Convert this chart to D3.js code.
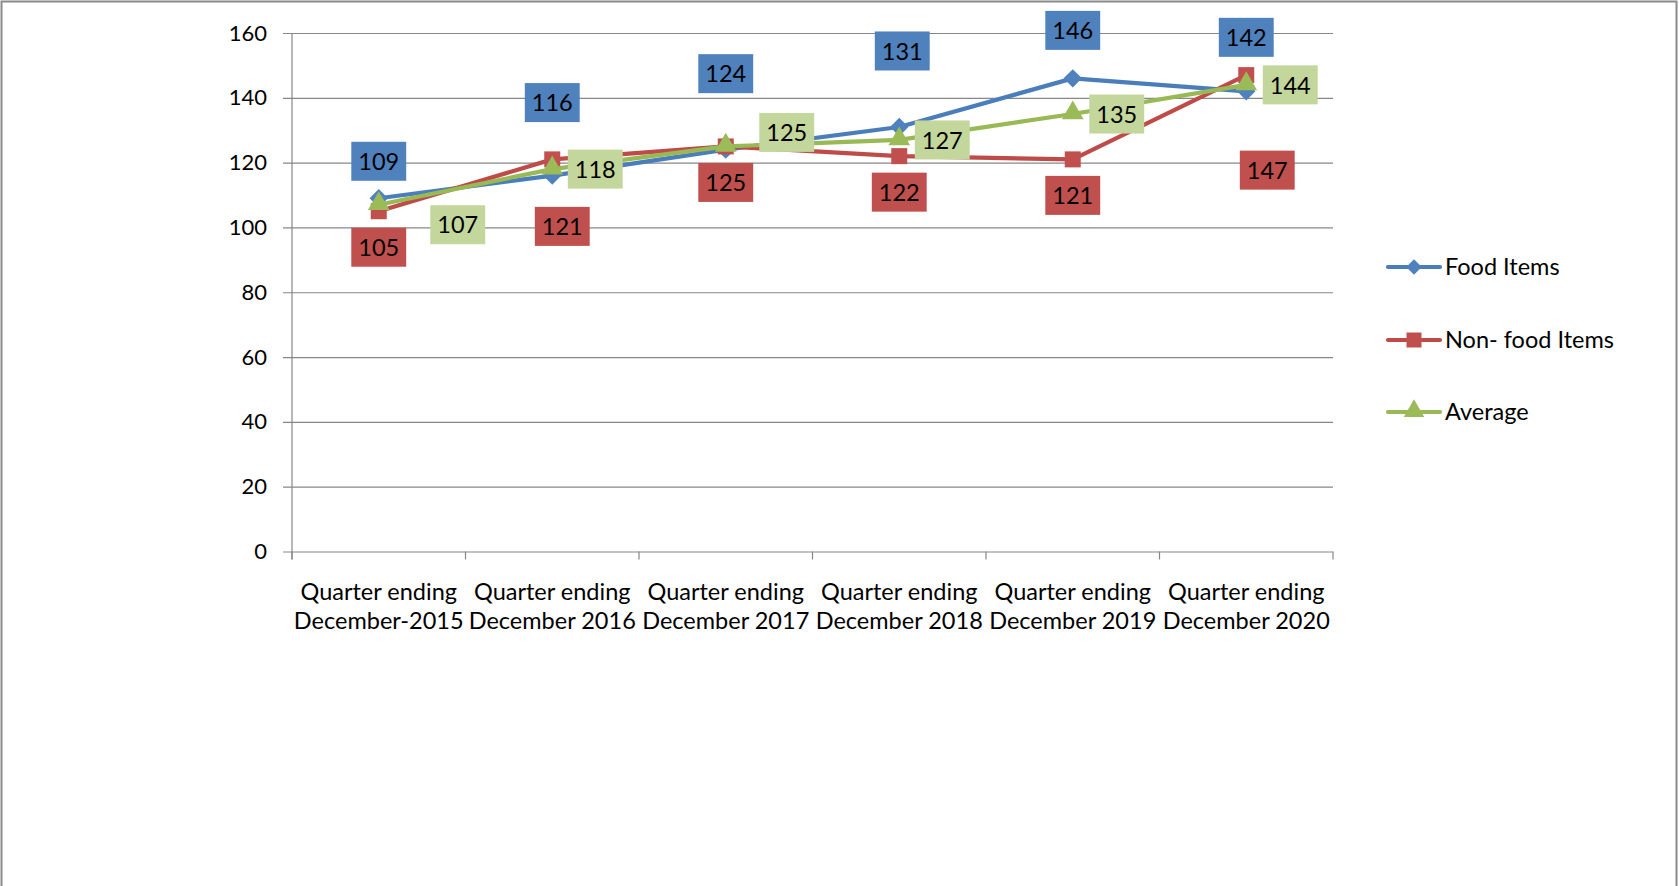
<!DOCTYPE html>
<html>
<head>
<meta charset="utf-8">
<script src="https://cdn.jsdelivr.net/npm/d3@7"></script>
<style>
    body { margin: 0; background: #fff; }
    text { font-family: Lato, "Open Sans", sans-serif; fill: #000; }
</style>
</head>
<body>
<div id="container"></div>
<script>
var width = 1679,
    height = 886;

// chart data
var categories = [
    "Quarter ending\nDecember-2015",
    "Quarter ending\nDecember 2016",
    "Quarter ending\nDecember 2017",
    "Quarter ending\nDecember 2018",
    "Quarter ending\nDecember 2019",
    "Quarter ending\nDecember 2020"
];
var seriesNames = ["Food Items", "Non- food Items", "Average"];
var foodItems = [109, 116, 124, 131, 146, 142];
var nonFoodItems = [105, 121, 125, 122, 121, 147];
var average = [107, 118, 125, 127, 135, 144];
var yTicks = [0, 20, 40, 60, 80, 100, 120, 140, 160];

// where each data label sits relative to its point (px)
var labelShift = [
    [[0, -37], [0, -73], [0, -76], [3, -76], [0, -48], [0, -54]],
    [[0, 36], [10, 67], [0, 36], [0, 36], [0, 36], [21, 95]],
    [[79, 20], [43, 0], [61, -14], [43, 0], [44, 0], [44, 0]]
];

var lineColors = ["#4A7EBB", "#BE4B48", "#98B954"],
    markerColors = ["#4F81BD", "#C0504D", "#9BBB59"],
    labelColors = ["#4F81BD", "#C0504D", "#C3D69B"];

var series = [foodItems, nonFoodItems, average].map(function (vals, i) {
    return { name: seriesNames[i], values: vals, index: i };
});

var svg = d3.select("#container")
    .append("svg")
    .attr("width", width)
    .attr("height", height);

// outer frame
svg.append("rect")
    .attr("x", 1.5).attr("y", 1.5)
    .attr("width", 1675).attr("height", 900)
    .attr("fill", "none")
    .attr("stroke", "#8a8a8a")
    .attr("stroke-width", 2);

var x0 = 292, x1 = 1333, yTop = 33, yBottom = 551.5;

var x = d3.scaleBand().domain(categories).range([x0, x1]).paddingInner(0).paddingOuter(0);
var y = d3.scaleLinear().domain([0, 160]).range([yBottom, yTop]);
var cx = function (i) { return x(categories[i]) + x.bandwidth() / 2; };

// gridlines + y labels
var yAxis = svg.append("g")
    .attr("transform", "translate(" + (x0 - 9) + ",0)")
    .call(d3.axisLeft(y).tickValues(yTicks).tickSize(-(x1 - x0 + 9)).tickPadding(16));
yAxis.select(".domain").remove();
yAxis.selectAll("line").attr("stroke", "#878787").attr("stroke-width", 1.2);
yAxis.selectAll("text").style("font-size", "22px").attr("fill", "#000");

// y axis line
svg.append("line")
    .attr("x1", x0).attr("x2", x0)
    .attr("y1", y(160)).attr("y2", y(0) + 8)
    .attr("stroke", "#878787").attr("stroke-width", 1.2);

// x ticks at category edges
var edges = categories.map(function (c) { return x(c); }).concat([x1]);
svg.append("g").selectAll("line")
    .data(edges)
    .enter().append("line")
    .attr("x1", function (d) { return d; })
    .attr("x2", function (d) { return d; })
    .attr("y1", y(0))
    .attr("y2", y(0) + 8)
    .attr("stroke", "#878787").attr("stroke-width", 1.2);

// category labels
var catG = svg.append("g");
categories.forEach(function (c, i) {
    var t = catG.append("text")
        .attr("x", cx(i))
        .attr("y", 600)
        .attr("text-anchor", "middle")
        .style("font-size", "23.5px");
    c.split("\n").forEach(function (line, k) {
        t.append("tspan")
            .attr("x", cx(i))
            .attr("dy", k === 0 ? 0 : 29)
            .text(line);
    });
});

// markers
function drawMarker(g, i, px, py, s) {
    if (i === 0) {
        g.append("rect")
            .attr("x", -s / 2).attr("y", -s / 2)
            .attr("width", s).attr("height", s)
            .attr("transform", "translate(" + px + "," + py + ") rotate(45)")
            .attr("fill", markerColors[i]);
    } else if (i === 1) {
        g.append("rect")
            .attr("x", px - s / 2).attr("y", py - s / 2)
            .attr("width", s).attr("height", s)
            .attr("fill", markerColors[i]);
    } else {
        g.append("path")
            .attr("d", d3.symbol().type(d3.symbolTriangle).size(s * s * 0.8)())
            .attr("transform", "translate(" + px + "," + (py - 1) + ")")
            .attr("fill", markerColors[i]);
    }
}

var line = d3.line()
    .x(function (d, i) { return cx(i); })
    .y(function (d) { return y(d); });

series.forEach(function (s) {
    var g = svg.append("g").attr("class", "series");
    g.append("path")
        .attr("d", line(s.values))
        .attr("fill", "none")
        .attr("stroke", lineColors[s.index])
        .attr("stroke-width", 4.2)
        .attr("stroke-linejoin", "round");
    s.values.forEach(function (v, i) {
        drawMarker(g, s.index, cx(i), y(v), s.index === 0 ? 13 : 16);
    });
});

// data labels
var labelG = svg.append("g");
series.forEach(function (s) {
    s.values.forEach(function (v, i) {
        var lx = cx(i) + labelShift[s.index][i][0],
            ly = y(v) + labelShift[s.index][i][1];
        var g = labelG.append("g").attr("transform", "translate(" + lx + "," + ly + ")");
        var rect = g.append("rect").attr("fill", labelColors[s.index]);
        var t = g.append("text")
            .attr("text-anchor", "middle")
            .attr("dy", "0.37em")
            .style("font-size", "23.5px")
            .text(v);
        var w = t.node().getComputedTextLength() + 14;
        rect.attr("x", -w / 2).attr("y", -19.5).attr("width", w).attr("height", 39);
    });
});

// legend
var legendRows = [267, 340, 412];
var legend = svg.append("g");
series.forEach(function (s) {
    var ly = legendRows[s.index];
    legend.append("line")
        .attr("x1", 1388).attr("x2", 1440)
        .attr("y1", ly).attr("y2", ly)
        .attr("stroke", lineColors[s.index])
        .attr("stroke-width", 4.2)
        .attr("stroke-linecap", "round");
    drawMarker(legend, s.index, 1414, ly, s.index === 0 ? 11 : 15);
    legend.append("text")
        .attr("x", 1445)
        .attr("y", ly)
        .attr("dy", "0.36em")
        .style("font-size", "23.5px")
        .text(s.name);
});
</script>
</body>
</html>
